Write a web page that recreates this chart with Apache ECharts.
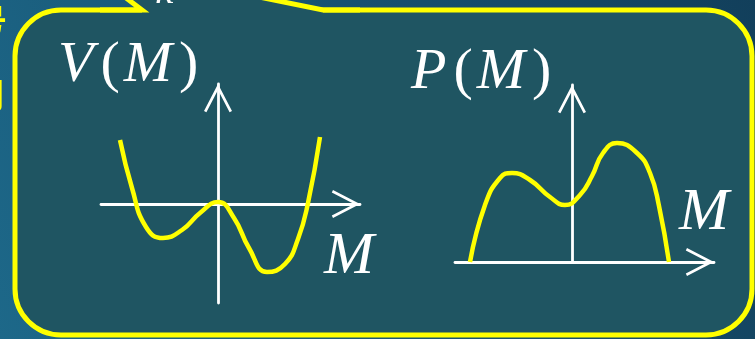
<!DOCTYPE html>
<html>
<head>
<meta charset="utf-8">
<script src="https://cdn.jsdelivr.net/npm/echarts@6/dist/echarts.min.js"></script>
<style>
  html, body { margin: 0; padding: 0; }
  #chart { width: 755px; height: 339px; }
</style>
</head>
<body>
<div id="chart"></div>
<script>
// V(M): double-well potential
const vX = [-9.8, -8.6, -7.2, -5.5, -3.6, -1.8, 0, 1.6, 3.1, 4.9, 6.7, 8.0, 9.0, 10.2];
const vY = [6.4, 1.6, -2.3, -3.4, -2.6, -0.9, 0.2, -1.4, -4.4, -6.8, -6.0, -3.5, 0.1, 6.7];
// P(M): two-peaked distribution
const pX = [-10.2, -8.7, -7.2, -6.0, -4.2, -2.2, -0.7, 0.8, 2.0, 3.1, 4.5, 6.5, 7.8, 8.7, 9.7];
const pY = [0, 5.7, 8.4, 8.9, 8.2, 6.5, 5.7, 6.7, 8.6, 10.9, 11.9, 10.9, 8.9, 5.6, 0];
// axis extents
const xRange = [-11.7, 14.2];
const vRange = [-9.9, 12.0];
const pRange = [0, 17.7];

const yellow = '#ffff00';
const bubble = '#1f5562';
const serif = 'Liberation Serif';

const chevron = 'path://M14 0L28 27L25.6 28.2L14 5.9L2.4 28.2L0 27Z';

function axisStyle(){
    return {
        show: true,
        onZero: true,
        symbol: ['none', chevron],
        symbolSize: [28, 28.2],
        symbolOffset: [0, -14.1],
        lineStyle: { color: '#ffffff', width: 2.8 }
    };
}
function valueAxis(range, grid){
    return {
        type: 'value',
        gridIndex: grid,
        min: range[0],
        max: range[1],
        axisLine: axisStyle(),
        axisTick: { show: false },
        axisLabel: { show: false },
        splitLine: { show: false }
    };
}
function pairs(xs, ys){
    return xs.map((x, i) => [x, ys[i]]);
}
function mathText(a, b){
    return '{i|' + a + '}{p|(}{i|' + b + '}{p|)}';
}
const rich = {
    i: { fontFamily: serif, fontStyle: 'italic', fontWeight: 'normal', fontSize: 58, color: '#fff', lineHeight: 57, padding: [0, 5, 0, 0] },
    p: { fontFamily: serif, fontWeight: 'normal', fontSize: 58, color: '#fff', lineHeight: 57, padding: [0, 4, 0, 2] }
};
const mStyle = { fontFamily: serif, fontStyle: 'italic', fontWeight: 'normal', fontSize: 60, color: '#fff', lineHeight: 57 };

const chart = echarts.init(document.getElementById('chart'));
chart.setOption({
    animation: false,
    backgroundColor: {
        type: 'linear', x: 1, y: 0, x2: 0, y2: 1,
        colorStops: [{ offset: 0, color: '#123f5b' }, { offset: 1, color: '#1d6889' }]
    },
    title: [
        { left: 58, top: 37, padding: 0, text: mathText('V', 'M'), textStyle: { fontWeight: 'normal', rich: rich } },
        { left: 411, top: 44, padding: 0, text: mathText('P', 'M'), textStyle: { fontWeight: 'normal', rich: rich } },
        { left: 324, top: 229, padding: 0, text: 'M', textStyle: mStyle },
        { left: 679, top: 185, padding: 0, text: 'M', textStyle: mStyle }
    ],
    grid: [
        { left: 101, top: 84, width: 259, height: 219, outerBoundsMode: 'none' },
        { left: 455, top: 85, width: 259, height: 177, outerBoundsMode: 'none' }
    ],
    xAxis: [valueAxis(xRange, 0), valueAxis(xRange, 1)],
    yAxis: [valueAxis(vRange, 0), valueAxis(pRange, 1)],
    graphic: [
        { type: 'rect', z: -10, shape: { x: 15, y: 10, width: 737, height: 325, r: 46 },
          style: { fill: bubble, stroke: yellow, lineWidth: 5 } },
        { type: 'polygon', z: -9, shape: { points: [[109, -15], [142, 10], [142, 14], [323, 14], [323, 10], [200, -15]] },
          style: { fill: bubble } },
        { type: 'polyline', z: -8, shape: { points: [[100, 10], [142, 10], [109, -15]] },
          style: { stroke: yellow, lineWidth: 5, fill: null, lineJoin: 'miter' } },
        { type: 'polyline', z: -8, shape: { points: [[200, -15], [323, 10], [360, 10]] },
          style: { stroke: yellow, lineWidth: 5, fill: null, lineJoin: 'miter' } },
        { type: 'text', z: -7, style: { x: 155, y: 12, text: 'κ', fill: '#fff', font: 'italic 40px "Liberation Serif"', verticalAlign: 'bottom' } },
        { type: 'text', z: -7, style: { x: -27, y: 4, text: '号', fill: yellow, font: 'bold 34px "Noto Sans CJK SC"' } },
        { type: 'text', z: -7, style: { x: -27, y: 78, text: '月', fill: yellow, font: 'bold 34px "Noto Sans CJK SC"' } }
    ],
    series: [
        {
            type: 'line', xAxisIndex: 0, yAxisIndex: 0,
            data: pairs(vX, vY),
            smooth: 0.5, showSymbol: false, z: 5,
            lineStyle: { color: yellow, width: 4.5 }
        },
        {
            type: 'line', xAxisIndex: 1, yAxisIndex: 1,
            data: pairs(pX, pY),
            smooth: 0.5, showSymbol: false, z: 5,
            lineStyle: { color: yellow, width: 4.5 }
        }
    ]
});
</script>
</body>
</html>
